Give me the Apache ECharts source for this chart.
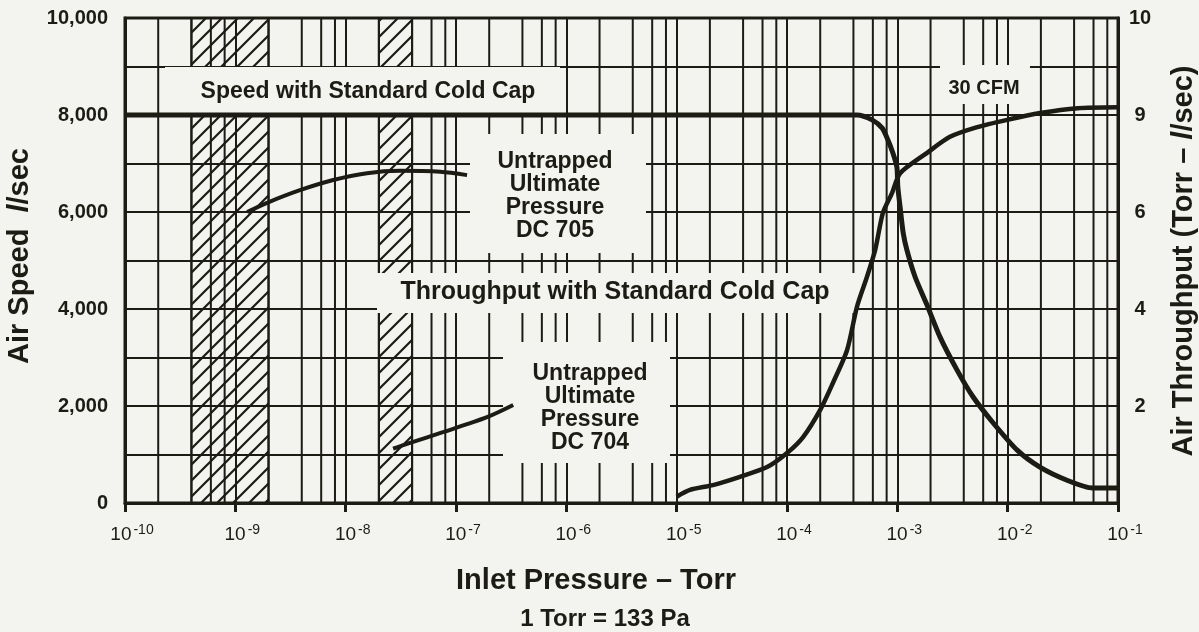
<!DOCTYPE html>
<html><head><meta charset="utf-8">
<script src="https://cdn.jsdelivr.net/npm/echarts@6/dist/echarts.min.js"></script>
<style>html,body{margin:0;padding:0;background:#f3f3f0}#c{width:1199px;height:632px}</style>
</head><body><div id="c"></div>
<script>
// ---------- data ----------
const xTickExponents = ['-10','-9','-8','-7','-6','-5','-4','-3','-2','-1'];
const leftTickLabels = ['0','2,000','4,000','6,000','8,000','10,000'];
const rightTickLabels = {0:'',2:'2',4:'4',6:'6',8:'9',10:'10'};
const minorMultipliers = [2,4,6,8];
const decadeExponents = [-10,-9,-8,-7,-6,-5,-4,-3,-2];
const hatchBands = [[4e-10, 2e-9],[2e-8, 4e-8]];

const speedX = [1e-10, 4.3e-4, 5.9e-4, 7.3e-4, 8.2e-4, 9.1e-4, 9.9e-4, 1.01e-3, 1.06e-3, 1.13e-3, 1.22e-3, 1.45e-3, 1.86e-3, 2.44e-3, 3.48e-3, 4.85e-3, 7.4e-3, 1.22e-2, 1.96e-2, 3.45e-2, 5.9e-2, 1e-1];
const speedY = [8000, 8000, 7900, 7730, 7490, 7220, 6930, 6520, 6100, 5570, 5220, 4660, 4080, 3420, 2740, 2190, 1650, 1090, 740, 470, 310, 310];

const throughX = [1e-5, 1.32e-5, 2.13e-5, 3.75e-5, 6.6e-5, 1e-4, 1.4e-4, 2e-4, 2.6e-4, 3.5e-4, 4.3e-4, 5.3e-4, 6.3e-4, 7.4e-4, 8.95e-4, 1.06e-3, 1.86e-3, 3e-3, 5.3e-3, 9.9e-3, 1.96e-2, 4.3e-2, 1e-1];
const throughY = [0.13, 0.27, 0.37, 0.54, 0.74, 1.03, 1.36, 1.92, 2.47, 3.15, 4.04, 4.66, 5.22, 5.98, 6.39, 6.80, 7.22, 7.55, 7.75, 7.90, 8.04, 8.14, 8.16];

const dc705X = [1.28e-9, 1.94e-9, 3.85e-9, 7.7e-9, 1.56e-8, 3.1e-8, 7.2e-8, 1.26e-7];
const dc705Y = [6000, 6190, 6450, 6660, 6800, 6850, 6830, 6760];

const dc704X = [2.69e-8, 3.83e-8, 7.6e-8, 1.91e-7, 3.3e-7];
const dc704Y = [1120, 1240, 1460, 1770, 2020];

// ---------- style ----------
const INK = '#1c1c14';
const BG = '#f3f3f0';
const FONT = '"Liberation Sans", Arial, Helvetica, sans-serif';

function zip(a, b) { return a.map((v, i) => [v, b[i]]); }

const minorValues = [];
decadeExponents.forEach(e => minorMultipliers.forEach(m => minorValues.push(m * Math.pow(10, e))));

// hatch pattern
const pc = document.createElement('canvas');
pc.width = 16; pc.height = 16;
const g = pc.getContext('2d');
g.strokeStyle = INK; g.lineWidth = 2.2; g.lineCap = 'square';
g.beginPath();
g.moveTo(0, 16); g.lineTo(16, 0);
g.moveTo(-2, 2); g.lineTo(2, -2);
g.moveTo(14, 18); g.lineTo(18, 14);
g.stroke();

const chart = echarts.init(document.getElementById('c'), null, { renderer: 'canvas' });

function box(x, y, w, h) {
  return { type: 'rect', z: 2, silent: true, shape: { x, y, width: w, height: h }, style: { fill: BG } };
}
function txt(x, y, text, size, lh) {
  return {
    type: 'text', z: 10, silent: true, x, y,
    style: { text, font: 'bold ' + size + 'px ' + FONT, fill: INK, textAlign: 'center', textVerticalAlign: 'middle', align: 'center', verticalAlign: 'middle', lineHeight: lh || size + 2 }
  };
}
function vtxt(x, y, parts, size) {
  return {
    type: 'text', z: 10, silent: true, x, y, rotation: Math.PI / 2,
    style: {
      text: parts, textAlign: 'center', textVerticalAlign: 'middle', align: 'center', verticalAlign: 'middle',
      rich: {
        a: { font: 'bold ' + size + 'px ' + FONT, fill: INK, color: INK },
        i: { font: 'italic bold ' + size + 'px ' + FONT, fill: INK, color: INK }
      }
    }
  };
}

const option = {
  backgroundColor: BG,
  animation: false,
  grid: { left: 125, right: 81, top: 18, bottom: 129, show: true, borderColor: INK, borderWidth: 3, backgroundColor: 'transparent', outerBoundsMode: 'none', containLabel: false },
  xAxis: {
    type: 'log', logBase: 10, min: 1e-10, max: 1e-1, splitNumber: 9,
    axisLine: { show: true, lineStyle: { color: INK, width: 3 } },
    axisTick: { show: true, length: 9, lineStyle: { color: INK, width: 3 } },
    splitLine: { show: true, lineStyle: { color: INK, width: 2 } },
    minorTick: { show: false }, minorSplitLine: { show: false },
    axisLabel: {
      margin: 20, color: INK, showMinLabel: true, showMaxLabel: true, hideOverlap: false,
      formatter: v => { const i = Math.round(Math.log10(v)) + 10; return '{b|10}{s|' + xTickExponents[i] + '}'; },
      rich: {
        b: { fontSize: 19, fontFamily: FONT, color: INK, padding: [0, 0, 0, 14] },
        s: { fontSize: 14, fontFamily: FONT, color: INK, padding: [0, 0, 9, 2] }
      }
    }
  },
  yAxis: [{
    type: 'value', min: 0, max: 10000, interval: 1000,
    axisLine: { show: true, lineStyle: { color: INK, width: 3 } },
    axisTick: { show: false },
    splitLine: { show: true, lineStyle: { color: INK, width: 2 } },
    axisLabel: {
      margin: 17, color: INK, fontSize: 20, fontWeight: 'bold', fontFamily: FONT, showMinLabel: true, showMaxLabel: true,
      formatter: v => (v % 2000 === 0 ? leftTickLabels[v / 2000] : '')
    }
  }, {
    type: 'value', min: 0, max: 10, interval: 2, position: 'right',
    axisLine: { show: true, lineStyle: { color: INK, width: 3 } },
    axisTick: { show: false },
    splitLine: { show: false },
    axisLabel: {
      margin: 22, align: 'center', color: INK, fontSize: 20, fontWeight: 'bold', fontFamily: FONT, showMinLabel: true, showMaxLabel: true,
      formatter: v => rightTickLabels[v] || ''
    }
  }],
  series: [
    {
      name: 'minor grid', type: 'custom', z: 1, silent: true, xAxisIndex: 0, yAxisIndex: 0,
      data: minorValues.map(v => [v, 0]),
      renderItem: (params, api) => {
        const x = api.value(0);
        const p1 = api.coord([x, 0]);
        const p2 = api.coord([x, 10000]);
        return { type: 'line', shape: { x1: p1[0], y1: p1[1], x2: p2[0], y2: p2[1] }, style: { stroke: INK, lineWidth: 2 } };
      }
    },
    {
      name: 'hatch', type: 'line', z: 1, data: [[1e-10, 0]], showSymbol: false, symbol: 'none',
      lineStyle: { opacity: 0 }, silent: true,
      markArea: {
        silent: true, label: { show: false },
        itemStyle: { color: { image: pc, repeat: 'repeat' }, borderColor: INK, borderWidth: 2 },
        data: hatchBands.map(b => [{ xAxis: b[0] }, { xAxis: b[1] }])
      }
    },
    { name: 'Speed with Standard Cold Cap', type: 'line', z: 5, yAxisIndex: 0, data: zip(speedX, speedY), showSymbol: false, symbol: 'none', smooth: 0.25, lineStyle: { color: INK, width: 5 } },
    { name: 'Throughput with Standard Cold Cap', type: 'line', z: 5, yAxisIndex: 1, data: zip(throughX, throughY), showSymbol: false, symbol: 'none', smooth: 0.25, lineStyle: { color: INK, width: 4.5 } },
    { name: 'DC 705', type: 'line', z: 5, yAxisIndex: 0, data: zip(dc705X, dc705Y), showSymbol: false, symbol: 'none', smooth: 0.3, lineStyle: { color: INK, width: 4 } },
    { name: 'DC 704', type: 'line', z: 5, yAxisIndex: 0, data: zip(dc704X, dc704Y), showSymbol: false, symbol: 'none', smooth: 0.3, lineStyle: { color: INK, width: 4 } }
  ],
  graphic: [
    box(165, 67, 395, 46),
    box(470, 134, 176, 119),
    box(377, 273, 480, 40),
    box(503, 342, 167, 121),
    box(940, 65, 90, 39),
    txt(368, 92, 'Speed with Standard Cold Cap', 23),
    txt(615, 292, 'Throughput with Standard Cold Cap', 25),
    txt(555, 196, 'Untrapped\nUltimate\nPressure\nDC 705', 23, 23),
    txt(590, 408, 'Untrapped\nUltimate\nPressure\nDC 704', 23, 23),
    txt(984, 88, '30 CFM', 20),
    txt(596, 581, 'Inlet Pressure – Torr', 29),
    txt(605, 619, '1 Torr = 133 Pa', 24),
    vtxt(20, 256, '{a|Air Speed  }{i|l}{a|/sec}', 29),
    vtxt(1184, 261, '{a|Air Throughput (Torr – }{i|l}{a|/sec)}', 29)
  ]
};
chart.setOption(option);
</script>
</body></html>
